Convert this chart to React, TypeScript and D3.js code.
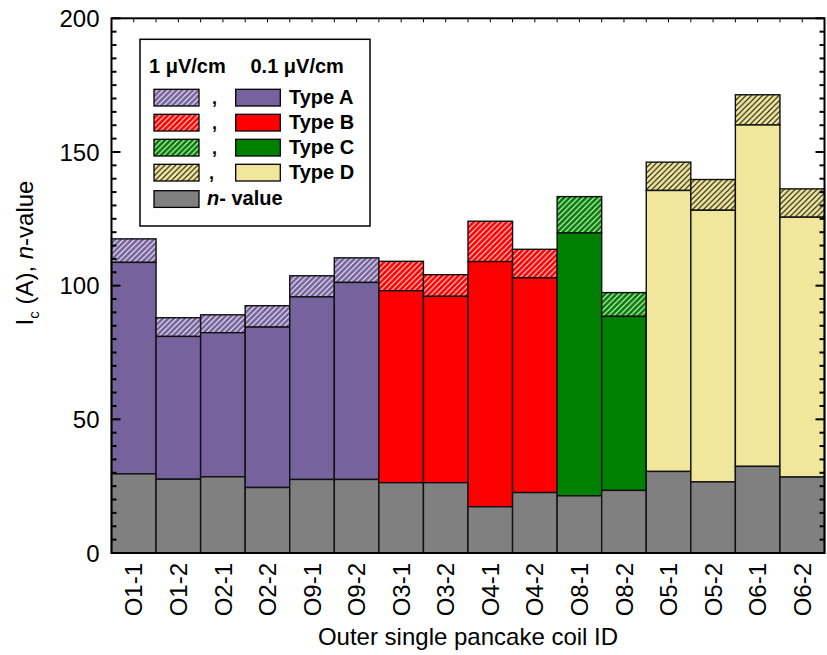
import React from "react";
import * as d3 from "d3";

const categories = ["O1-1","O1-2","O2-1","O2-2","O9-1","O9-2","O3-1","O3-2","O4-1","O4-2","O8-1","O8-2","O5-1","O5-2","O6-1","O6-2"];
const types = ["A","A","A","A","A","A","B","B","B","B","C","C","D","D","D","D"];
const ic1 = [117.5,88,89.1,92.5,103.7,110.4,109.1,104.1,124.1,113.6,133.3,97.4,146.2,139.7,171.4,136.2];
const ic01 = [108.7,81,82.4,84.5,95.8,101.2,98.1,96,109,102.9,119.7,88.5,135.6,128.2,160.1,125.6];
const nValue = [29.6,27.6,28.5,24.5,27.5,27.5,26.3,26.3,17.3,22.6,21.4,23.4,30.5,26.6,32.4,28.4];
const yTicks = [0,50,100,150,200];
const typeKeys = ["A","B","C","D"];
const typeLabels = ["Type A","Type B","Type C","Type D"];

const colors: Record<string,string> = { A: "#76629c", B: "#ff0000", C: "#008000", D: "#f0e69c" };
const hatchColor: Record<string,string> = { A: "#ffffff", B: "#ffffff", C: "#ffffff", D: "#000000" };
const gray = "#808080";

const W = 827, H = 655;
const L = 111.5, R = 824.5, T = 18.3, B = 553;

export default function App() {
  const x = d3.scaleBand<string>().domain(categories).range([L, R]).padding(0);
  const y = d3.scaleLinear().domain([0, 200]).range([B, T]);
  const minor = d3.range(0, 201, 5);
  const bw = x.bandwidth();
  const halfTicks = d3.range(0, categories.length * 2 + 1).map(i => L + (i * bw) / 2);
  const font = "Arial, 'Liberation Sans', sans-serif";

  return (
    <svg width={W} height={H} style={{ position: "absolute", left: 0, top: 0, background: "#fff" }} fontFamily={font}>
      <defs>
        {typeKeys.map(k => (
          <pattern key={k} id={`h${k}`} patternUnits="userSpaceOnUse" width={5.5} height={5.5}>
            <rect width={5.5} height={5.5} fill={colors[k]} />
            <path d="M-1,1 L1,-1 M0,5.5 L5.5,0 M4.5,6.5 L6.5,4.5" stroke={hatchColor[k]} strokeWidth={1} />
          </pattern>
        ))}
      </defs>
      <rect x={0} y={0} width={W} height={H} fill="#fff" />
      {categories.map((c, i) => {
        const x0 = x(c)!;
        const t = types[i];
        return (
          <g key={c} stroke="#111" strokeWidth={1.4}>
            <rect x={x0} y={y(ic1[i])} width={bw} height={y(ic01[i]) - y(ic1[i])} fill={`url(#h${t})`} />
            <rect x={x0} y={y(ic01[i])} width={bw} height={y(nValue[i]) - y(ic01[i])} fill={colors[t]} />
            <rect x={x0} y={y(nValue[i])} width={bw} height={y(0) - y(nValue[i])} fill={gray} />
          </g>
        );
      })}
      <rect x={L} y={T} width={R - L} height={B - T} fill="none" stroke="#000" strokeWidth={2} />
      {minor.map(v => {
        const len = v % 50 === 0 ? 9 : 5;
        return (
          <g key={v} stroke="#000" strokeWidth={2}>
            <line x1={L} x2={L + len} y1={y(v)} y2={y(v)} />
            <line x1={R} x2={R - len} y1={y(v)} y2={y(v)} />
          </g>
        );
      })}
      {halfTicks.map((px, i) => (
        <line key={i} x1={px} x2={px} y1={T} y2={T + 4} stroke="#000" strokeWidth={1} />
      ))}
      {yTicks.map(v => (
        <text key={v} x={L - 12} y={y(v)} dy="0.36em" textAnchor="end" fontSize={24}>{v}</text>
      ))}
      {categories.map(c => (
        <text key={c} transform={`translate(${x(c)! + bw / 2},${B + 10}) rotate(-90)`} textAnchor="end" dy="0.36em" fontSize={24}>{c}</text>
      ))}
      <text x={(L + R) / 2} y={645} textAnchor="middle" fontSize={24}>Outer single pancake coil ID</text>
      <text transform={`translate(33,253) rotate(-90)`} textAnchor="middle" fontSize={24}>
        I<tspan fontSize={15} dy={6}>c</tspan><tspan dy={-6}> (A), </tspan><tspan fontStyle="italic">n</tspan>-value
      </text>
      <g>
        <rect x={140} y={39.3} width={230} height={186.7} fill="#fff" stroke="#000" strokeWidth={1.5} />
        <text x={149} y={73.3} fontSize={20} fontWeight="bold">1 μV/cm</text>
        <text x={250.5} y={73.3} fontSize={20} fontWeight="bold">0.1 μV/cm</text>
        {typeKeys.map((k, i) => {
          const ry = 89.3 + i * 25;
          return (
            <g key={k}>
              <rect x={154} y={ry} width={45} height={16.7} fill={`url(#h${k})`} stroke="#000" strokeWidth={1.3} />
              <text x={i === 3 ? 209 : 212} y={ry + 15} fontSize={18} fontWeight="bold">,</text>
              <rect x={235.7} y={ry} width={44.6} height={16.7} fill={colors[k]} stroke="#000" strokeWidth={1.3} />
              <text x={289} y={ry + 14.5} fontSize={20} fontWeight="bold">{typeLabels[i]}</text>
            </g>
          );
        })}
        <rect x={154} y={190.7} width={45} height={16.7} fill={gray} stroke="#000" strokeWidth={1.3} />
        <text x={207} y={205.2} fontSize={20} fontWeight="bold"><tspan fontStyle="italic">n</tspan>- value</text>
      </g>
    </svg>
  );
}
